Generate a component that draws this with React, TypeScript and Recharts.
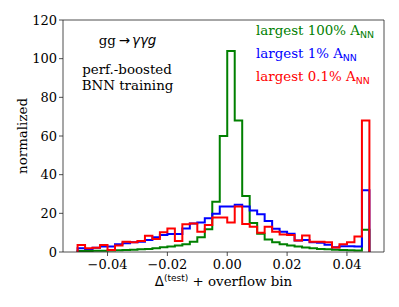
import React from 'react';
import { LineChart, Line, XAxis, YAxis, ReferenceLine } from 'recharts';

// left edges of histogram bins (last one is the overflow bin)
const binEdges = [
  -0.05, -0.0475, -0.045, -0.0425, -0.04, -0.0375, -0.035, -0.0325, -0.03, -0.0275,
  -0.025, -0.0225, -0.02, -0.0175, -0.015, -0.0125, -0.01, -0.0075, -0.005, -0.0025,
  0, 0.0025, 0.005, 0.0075, 0.01, 0.0125, 0.015, 0.0175, 0.02, 0.0225,
  0.025, 0.0275, 0.03, 0.0325, 0.035, 0.0375, 0.04, 0.0425, 0.045,
];
const binEnd = 0.0475;

const green = [
  0.5, 0.5, 0.6, 0.7, 0.8, 0.9, 1.0, 1.2, 1.4, 1.5,
  1.9, 2.4, 2.8, 3.3, 4.0, 5.3, 7.6, 11.8, 26, 60,
  104, 68, 29, 15, 9.5, 6.5, 5.0, 4.0, 3.3, 2.8,
  2.3, 1.9, 1.6, 1.4, 1.2, 1.0, 0.9, 0.8, 11.5,
];
const blue = [
  1.9, 1.5, 2.2, 2.8, 2.8, 4.0, 4.5, 5.0, 5.3, 6.2,
  7.6, 8.8, 9.3, 9.3, 12.2, 14.8, 15.2, 17.4, 19.8, 23.5,
  23.5, 24.5, 23.5, 21.5, 19.5, 16, 12, 10.5, 9.5, 6.0,
  6.2, 5.0, 4.8, 3.8, 2.5, 3.0, 3.0, 2.8, 32,
];
const red = [
  3.6, 1.9, 2.2, 3.6, 1.0, 3.3, 5.3, 5.0, 5.7, 8.4,
  6.7, 10.2, 12.2, 5.7, 14.3, 14.8, 10.5, 14, 17.8, 17.8,
  15.3, 23.5, 14.5, 13, 10, 13, 10.5, 9, 8.8, 6.0,
  8.5, 5.3, 5.3, 5.0, 2.3, 4.0, 5.0, 8.0, 68,
];

const xTicks = [-0.04, -0.02, 0, 0.02, 0.04];
const yTicks = [0, 20, 40, 60, 80, 100, 120];
const xMin = -0.054875;
const xMax = 0.052375;

const data = [
  { x: binEdges[0], g: 0, b: 0, r: 0 },
  ...binEdges.map((x, i) => ({ x, g: green[i], b: blue[i], r: red[i] })),
  { x: binEnd, g: 0, b: 0, r: 0 },
];

const SERIF = 'DejaVu Serif';
const SANS = 'DejaVu Sans';
const FS = 13.4;

const fmtX = (v: number) => (v < 0 ? '\u2212' : '') + Math.abs(v).toFixed(2);

export default function App() {
  return (
    <div style={{ position: 'absolute', left: 0, top: 0, width: 399, height: 307, background: '#fff' }}>
      <LineChart width={399} height={307} data={data} margin={{ top: 20, right: 15, left: 0, bottom: 0 }}>
        <XAxis
          dataKey="x"
          type="number"
          domain={[xMin, xMax]}
          ticks={xTicks}
          allowDataOverflow
          interval={0}
          tickFormatter={fmtX}
          tick={{ fill: '#000', fontSize: 13, fontFamily: SERIF }}
          tickLine={{ stroke: '#222', strokeWidth: 0.8 }}
          axisLine={{ stroke: '#222', strokeWidth: 0.8 }}
          tickSize={4}
          tickMargin={4}
          height={55}
        />
        <YAxis
          type="number"
          domain={[0, 120]}
          ticks={yTicks}
          interval={0}
          allowDataOverflow
          tick={{ fill: '#000', fontSize: 13, fontFamily: SERIF }}
          tickLine={{ stroke: '#222', strokeWidth: 0.8 }}
          axisLine={{ stroke: '#222', strokeWidth: 0.8 }}
          tickSize={4}
          tickMargin={2}
          width={63}
        />
        <ReferenceLine y={120} stroke="#222" strokeWidth={0.8} />
        <ReferenceLine x={xMax} stroke="#222" strokeWidth={0.8} />
        <Line type="stepAfter" dataKey="g" stroke="#008000" strokeWidth={2} dot={false} isAnimationActive={false} />
        <Line type="stepAfter" dataKey="b" stroke="#0000ff" strokeWidth={2} dot={false} isAnimationActive={false} />
        <Line type="stepAfter" dataKey="r" stroke="#ff0000" strokeWidth={2} dot={false} isAnimationActive={false} />
      </LineChart>
      <svg width={399} height={307} style={{ position: 'absolute', left: 0, top: 0, pointerEvents: 'none' }}>
        <text x={27} y={136} transform="rotate(-90, 27, 136)" textAnchor="middle" fontFamily={SERIF} fontSize={FS} fill="#000">
          normalized
        </text>
        <text x={223.5} y={286} textAnchor="middle" fontFamily={SERIF} fontSize={FS} fill="#000" style={{ whiteSpace: 'pre' }}>
          <tspan fontFamily={SANS}>Δ</tspan>
          <tspan fontFamily={SANS} fontSize={9} dy={-5}>(test)</tspan>
          <tspan dy={5}>{' + overflow bin'}</tspan>
        </text>
        <text x={127.5} y={44.5} textAnchor="middle" fontFamily={SERIF} fontSize={FS} fill="#000" style={{ whiteSpace: 'pre' }}>
          <tspan>gg</tspan>
          <tspan fontFamily={SANS} dx={3}>→</tspan>
          <tspan fontFamily={SANS} fontStyle="italic" dx={2}>γγg</tspan>
        </text>
        <text x={127} y={74} textAnchor="middle" fontFamily={SERIF} fontSize={FS} fill="#000">
          perf.-boosted
        </text>
        <text x={127.5} y={89.5} textAnchor="middle" fontFamily={SERIF} fontSize={FS} fill="#000">
          BNN training
        </text>
        <text x={256} y={35} fontFamily={SERIF} fontSize={FS} fill="#008000">
          <tspan>largest 100% A</tspan>
          <tspan fontFamily={SANS} fontSize={9.4} dy={2.5}>NN</tspan>
        </text>
        <text x={256} y={58} fontFamily={SERIF} fontSize={FS} fill="#0000ff">
          <tspan>largest 1% A</tspan>
          <tspan fontFamily={SANS} fontSize={9.4} dy={2.5}>NN</tspan>
        </text>
        <text x={256} y={81} fontFamily={SERIF} fontSize={FS} fill="#ff0000">
          <tspan>largest 0.1% A</tspan>
          <tspan fontFamily={SANS} fontSize={9.4} dy={2.5}>NN</tspan>
        </text>
      </svg>
    </div>
  );
}
